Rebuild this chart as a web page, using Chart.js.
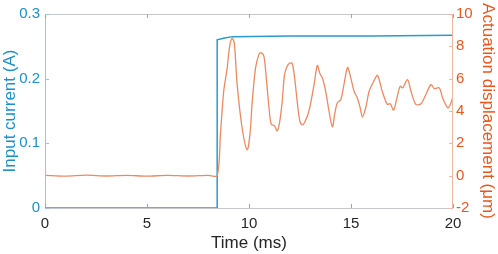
<!DOCTYPE html>
<html><head><meta charset="utf-8">
<script src="https://cdn.jsdelivr.net/npm/chart.js@4"></script>
<style>html,body{margin:0;padding:0;background:#fff}#wrap{width:498px;height:254px}</style>
</head><body><div id="wrap"><canvas id="c" width="498" height="254"></canvas></div>
<script>
const timeCurrent = [0, 8.44, 8.44, 8.8, 9.2, 12, 16, 20];
const currentA    = [0, 0, 0.260, 0.263, 0.265, 0.266, 0.266, 0.267];

const timeDisp = [0,1,2,3,4,5,6,7,8,8.44,8.6,8.76,8.93,9.05,9.17,9.28,9.42,9.66,9.91,10.05,10.16,10.32,10.5,10.6,10.73,10.85,10.98,11.09,11.25,11.38,11.5,11.63,11.74,11.88,12.0,12.12,12.24,12.36,12.49,12.61,12.73,12.94,13.19,13.35,13.48,13.6,13.76,13.92,14.09,14.2,14.33,14.5,14.65,14.83,14.98,15.15,15.31,15.45,15.56,15.72,15.89,16.1,16.3,16.53,16.78,16.92,17.09,17.25,17.41,17.53,17.77,17.94,18.18,18.43,18.67,18.92,19.08,19.33,19.49,19.74,19.87,19.98];
const dispUm = [0.02,-0.03,0.03,-0.02,0.02,-0.03,0.02,-0.02,0.02,0.0,2.58,5.22,6.65,8.0,8.5,8.2,5.63,2.98,1.6,2.6,4.61,6.65,7.55,7.6,7.4,6.0,4.2,3.18,3.08,2.77,3.3,4.61,6.24,6.8,6.96,6.94,6.0,4.61,3.39,3.14,3.3,4.0,5.63,6.82,6.3,6.04,5.22,4.0,3.02,3.8,4.51,4.71,5.6,6.69,6.1,5.22,4.81,4.2,3.63,4.2,5.22,5.8,6.2,5.22,4.41,4.45,4.06,4.8,5.53,5.43,5.94,5.22,4.41,4.45,5.02,5.63,5.39,5.43,4.81,4.2,4.4,4.81];

const xTicks = [0,5,10,15,20];
const leftTicks = [0,0.1,0.2,0.3];
const rightTicks = [-2,0,2,4,6,8,10];

const BLUE = '#1a8fc8', ORANGE = '#e8561c';
const FONT = "'Liberation Sans', Arial, sans-serif";

const boxPlugin = {
  id: 'box',
  afterDraw(chart) {
    const {ctx, chartArea: a, scales} = chart;
    ctx.save();
    ctx.lineWidth = 1;
    ctx.strokeStyle = '#c4c8cc';
    ctx.beginPath();
    ctx.moveTo(a.left, a.top + 0.5); ctx.lineTo(a.right, a.top + 0.5);
    ctx.moveTo(a.left, a.bottom + 0.5); ctx.lineTo(a.right, a.bottom + 0.5);
    ctx.stroke();
    ctx.strokeStyle = '#9ec6da';
    ctx.beginPath(); ctx.moveTo(a.left + 0.5, a.top); ctx.lineTo(a.left + 0.5, a.bottom); ctx.stroke();
    ctx.strokeStyle = '#edb89f';
    ctx.beginPath(); ctx.moveTo(a.right - 0.5, a.top); ctx.lineTo(a.right - 0.5, a.bottom); ctx.stroke();
    const L = 4;
    ctx.strokeStyle = '#a0a4a8';
    ctx.beginPath();
    xTicks.forEach(v => {
      const px = Math.round(scales.x.getPixelForValue(v)) + 0.5;
      ctx.moveTo(px, a.bottom); ctx.lineTo(px, a.bottom - L);
      ctx.moveTo(px, a.top); ctx.lineTo(px, a.top + L);
    });
    ctx.stroke();
    ctx.strokeStyle = '#9ec6da';
    ctx.beginPath();
    leftTicks.forEach(v => {
      const py = Math.round(scales.y.getPixelForValue(v)) + 0.5;
      ctx.moveTo(a.left, py); ctx.lineTo(a.left + L, py);
    });
    ctx.stroke();
    ctx.strokeStyle = '#edb89f';
    ctx.beginPath();
    rightTicks.forEach(v => {
      const py = Math.round(scales.y1.getPixelForValue(v)) + 0.5;
      ctx.moveTo(a.right, py); ctx.lineTo(a.right - L, py);
    });
    ctx.stroke();
    ctx.restore();
  }
};

new Chart(document.getElementById('c'), {
  type: 'line',
  data: {
    datasets: [
      {
        label: 'Input current',
        data: timeCurrent.map((t, i) => ({x: t, y: currentA[i]})),
        yAxisID: 'y', borderColor: '#2a9ad0', borderWidth: 1.5,
        pointRadius: 0, tension: 0, order: 2
      },
      {
        label: 'Actuation displacement',
        data: timeDisp.map((t, i) => ({x: t, y: dispUm[i]})),
        yAxisID: 'y1', borderColor: '#ea8a62', borderWidth: 1.3,
        pointRadius: 0, tension: 0.3, order: 1
      }
    ]
  },
  options: {
    responsive: false, animation: false,
    layout: {padding: {top: 10, left: 0, right: 0, bottom: 0}},
    plugins: {legend: {display: false}, tooltip: {enabled: false}},
    scales: {
      x: {
        type: 'linear', min: 0, max: 20,
        afterBuildTicks: s => { s.ticks = xTicks.map(v => ({value: v})); },
        afterFit: s => { s.height = 46; },
        grid: {display: false, drawTicks: false}, border: {display: false},
        ticks: {color: '#262626', font: {family: FONT, size: 15}, padding: 7, maxRotation: 0},
        title: {display: true, text: 'Time (ms)', color: '#262626', font: {family: FONT, size: 17}, padding: {top: 2, bottom: 0}}
      },
      y: {
        position: 'left', min: 0, max: 0.3,
        afterBuildTicks: s => { s.ticks = leftTicks.map(v => ({value: v})); },
        afterFit: s => { s.width = 45; },
        grid: {display: false, drawTicks: false}, border: {display: false},
        ticks: {color: BLUE, font: {family: FONT, size: 15}, padding: 5, callback: v => (v === 0 ? '0' : v.toFixed(1))},
        title: {display: true, text: 'Input current (A)', color: BLUE, font: {family: FONT, size: 17}, padding: {top: 0, bottom: 0}}
      },
      y1: {
        position: 'right', min: -2, max: 10,
        afterBuildTicks: s => { s.ticks = rightTicks.map(v => ({value: v})); },
        afterFit: s => { s.width = 45; },
        grid: {display: false, drawTicks: false}, border: {display: false},
        ticks: {color: ORANGE, font: {family: FONT, size: 15}, padding: 3},
        title: {display: true, text: 'Actuation displacement (μm)', color: ORANGE, font: {family: FONT, size: 17}, padding: {top: 0, bottom: 0}}
      }
    }
  },
  plugins: [boxPlugin]
});
</script>
</body></html>
